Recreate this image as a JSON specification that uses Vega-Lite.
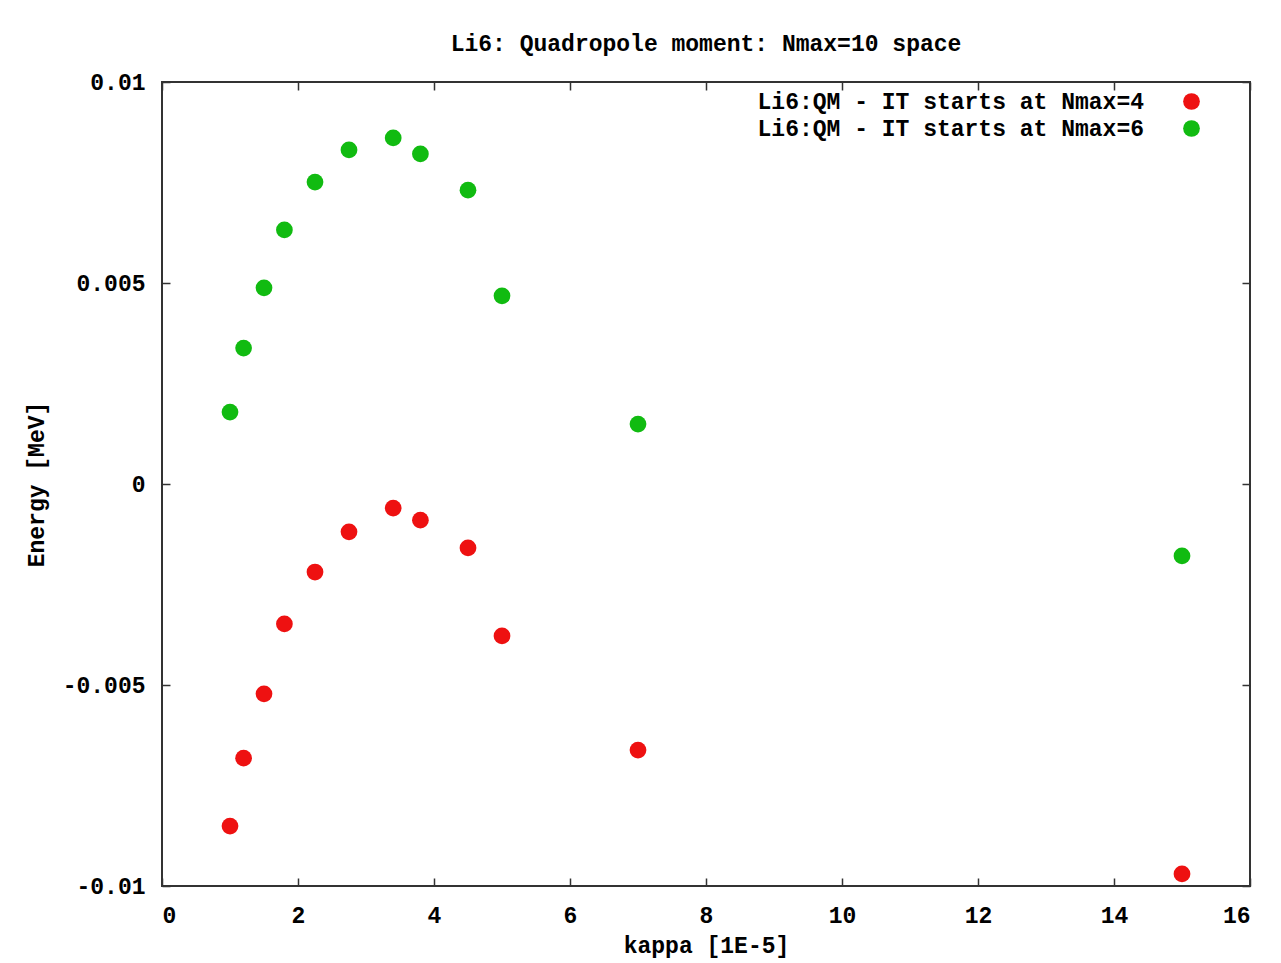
{
  "$schema": "https://vega.github.io/schema/vega-lite/v6.json",
  "width": 1088,
  "height": 804,
  "autosize": {"type": "none"},
  "padding": {"left": 162, "top": 82, "right": 31, "bottom": 77},
  "background": "white",
  "title": {"text": "Li6: Quadropole moment: Nmax=10 space", "font": "Liberation Mono", "fontSize": 23, "fontWeight": "bold", "color": "black", "offset": 15, "anchor": "middle"},
  "config": {
    "view": {"stroke": "#333333", "strokeWidth": 2},
    "axis": {
      "labelFont": "Liberation Mono", "labelFontSize": 23, "labelFontWeight": "bold", "labelColor": "black",
      "titleFont": "Liberation Mono", "titleFontSize": 23, "titleFontWeight": "bold", "titleColor": "black",
      "tickColor": "#333333", "tickSize": -8, "tickWidth": 1.5, "domain": false, "grid": false
    }
  },
  "data": {"values": [
    {"kappa": 1.0, "energy": -0.00851, "series": "Li6:QM - IT starts at Nmax=4"},
    {"kappa": 1.2, "energy": -0.00682, "series": "Li6:QM - IT starts at Nmax=4"},
    {"kappa": 1.5, "energy": -0.00522, "series": "Li6:QM - IT starts at Nmax=4"},
    {"kappa": 1.8, "energy": -0.00348, "series": "Li6:QM - IT starts at Nmax=4"},
    {"kappa": 2.25, "energy": -0.00219, "series": "Li6:QM - IT starts at Nmax=4"},
    {"kappa": 2.75, "energy": -0.00119, "series": "Li6:QM - IT starts at Nmax=4"},
    {"kappa": 3.4, "energy": -0.0006, "series": "Li6:QM - IT starts at Nmax=4"},
    {"kappa": 3.8, "energy": -0.0009, "series": "Li6:QM - IT starts at Nmax=4"},
    {"kappa": 4.5, "energy": -0.00159, "series": "Li6:QM - IT starts at Nmax=4"},
    {"kappa": 5.0, "energy": -0.00378, "series": "Li6:QM - IT starts at Nmax=4"},
    {"kappa": 7.0, "energy": -0.00662, "series": "Li6:QM - IT starts at Nmax=4"},
    {"kappa": 15.0, "energy": -0.0097, "series": "Li6:QM - IT starts at Nmax=4"},
    {"kappa": 1.0, "energy": 0.00179, "series": "Li6:QM - IT starts at Nmax=6"},
    {"kappa": 1.2, "energy": 0.00338, "series": "Li6:QM - IT starts at Nmax=6"},
    {"kappa": 1.5, "energy": 0.00488, "series": "Li6:QM - IT starts at Nmax=6"},
    {"kappa": 1.8, "energy": 0.00632, "series": "Li6:QM - IT starts at Nmax=6"},
    {"kappa": 2.25, "energy": 0.00751, "series": "Li6:QM - IT starts at Nmax=6"},
    {"kappa": 2.75, "energy": 0.00831, "series": "Li6:QM - IT starts at Nmax=6"},
    {"kappa": 3.4, "energy": 0.00861, "series": "Li6:QM - IT starts at Nmax=6"},
    {"kappa": 3.8, "energy": 0.00821, "series": "Li6:QM - IT starts at Nmax=6"},
    {"kappa": 4.5, "energy": 0.00731, "series": "Li6:QM - IT starts at Nmax=6"},
    {"kappa": 5.0, "energy": 0.00468, "series": "Li6:QM - IT starts at Nmax=6"},
    {"kappa": 7.0, "energy": 0.00149, "series": "Li6:QM - IT starts at Nmax=6"},
    {"kappa": 15.0, "energy": -0.00179, "series": "Li6:QM - IT starts at Nmax=6"}
  ]},
  "layer": [
    {
      "mark": {"type": "point", "filled": true, "shape": "circle", "size": 280, "opacity": 1},
      "encoding": {
        "x": {"field": "kappa", "type": "quantitative", "scale": {"domain": [0, 16], "nice": false, "zero": false},
              "axis": {"orient": "bottom", "values": [0, 2, 4, 6, 8, 10, 12, 14, 16], "title": "kappa [1E-5]", "labelPadding": 26, "titlePadding": 7}},
        "y": {"field": "energy", "type": "quantitative", "scale": {"domain": [-0.01, 0.01], "nice": false, "zero": false},
              "axis": {"orient": "left", "values": [-0.01, -0.005, 0, 0.005, 0.01], "labelExpr": "toString(datum.value)", "title": "Energy [MeV]", "labelPadding": 25, "titlePadding": 14}},
        "color": {"field": "series", "type": "nominal",
                  "scale": {"domain": ["Li6:QM - IT starts at Nmax=4", "Li6:QM - IT starts at Nmax=6"], "range": ["#ee1111", "#11bb11"]},
                  "legend": {"orient": "none", "legendX": 1018, "legendY": 8, "title": null, "padding": 0,
                             "labelFont": "Liberation Mono", "labelFontSize": 23, "labelFontWeight": "bold", "labelColor": "black", "labelLimit": 0,
                             "labelAlign": "right", "labelOffset": -59, "symbolSize": 280, "symbolType": "circle", "symbolStrokeWidth": 0, "rowPadding": 3}}
      }
    },
    {
      "mark": {"type": "point", "opacity": 0},
      "encoding": {
        "x": {"field": "kappa", "type": "quantitative", "axis": {"orient": "top", "values": [0, 2, 4, 6, 8, 10, 12, 14, 16], "labels": false, "title": null}},
        "y": {"field": "energy", "type": "quantitative", "axis": {"orient": "right", "values": [-0.01, -0.005, 0, 0.005, 0.01], "labels": false, "title": null}}
      }
    }
  ],
  "resolve": {"axis": {"x": "independent", "y": "independent"}}
}
